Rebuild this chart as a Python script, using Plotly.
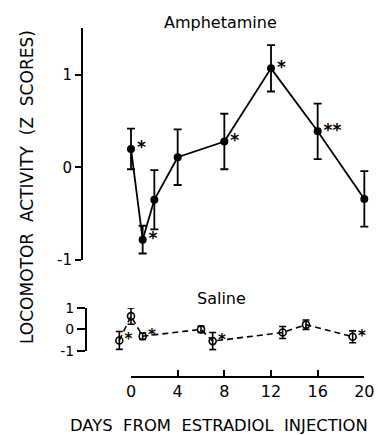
import plotly.graph_objects as go

# ---- data ----
amph_days = [0, 1, 2, 4, 8, 12, 16, 20]
amph_z = [0.20, -0.78, -0.35, 0.11, 0.28, 1.07, 0.39, -0.34]
amph_err = [0.22, 0.15, 0.32, 0.30, 0.30, 0.25, 0.30, 0.30]
amph_sig = ["*", "*", "", "", "*", "*", "**", ""]

sal_days = [-1, 0, 1, 6, 7, 13, 15, 19]
sal_z = [-0.52, 0.62, -0.32, 0.0, -0.55, -0.15, 0.22, -0.35]
sal_err = [0.42, 0.38, 0.15, 0.15, 0.40, 0.28, 0.22, 0.28]
sal_sig = ["*", "", "*", "", "*", "", "", "*"]

x_ticks = [0, 4, 8, 12, 16, 20]
x_ticktext = ["0", "4", "8", "12", "16", "20"]
y_ticks = [-1, 0, 1]
y_ticktext = ["-1", "0", "1"]

W, H = 378, 435
FONT = "DejaVu Sans"
INK = "black"
CLEAR = "rgba(0,0,0,0)"


def pad(labels):
    return [" " + s if s else "" for s in labels]


fig = go.Figure()

# Amphetamine (filled circles, solid line)
fig.add_trace(go.Scatter(
    x=amph_days, y=amph_z, mode="lines+markers",
    line=dict(color=INK, width=1.8),
    marker=dict(symbol="circle", size=8, color=INK),
    error_y=dict(type="data", array=amph_err, visible=True,
                 color=INK, thickness=1.8, width=4),
    xaxis="x", yaxis="y", cliponaxis=False, showlegend=False,
))
fig.add_trace(go.Scatter(
    x=amph_days, y=amph_z, mode="text", text=pad(amph_sig),
    textposition="middle right",
    textfont=dict(family=FONT, size=17, color=INK, weight="bold"),
    xaxis="x", yaxis="y", cliponaxis=False, showlegend=False,
))

# Saline (open circles, dashed line)
fig.add_trace(go.Scatter(
    x=sal_days, y=sal_z, mode="lines+markers",
    line=dict(color=INK, width=1.6, dash="6px,4px"),
    marker=dict(symbol="circle-open", size=7, color=INK,
                line=dict(width=1.6, color=INK)),
    error_y=dict(type="data", array=sal_err, visible=True,
                 color=INK, thickness=1.6, width=3.5),
    xaxis="x", yaxis="y2", cliponaxis=False, showlegend=False,
))
fig.add_trace(go.Scatter(
    x=sal_days, y=sal_z, mode="text", text=pad(sal_sig),
    textposition="middle right",
    textfont=dict(family=FONT, size=15, color=INK, weight="bold"),
    xaxis="x", yaxis="y2", cliponaxis=False, showlegend=False,
))

# invisible trace to hold the visible day axis
fig.add_trace(go.Scatter(
    x=[x_ticks[0], x_ticks[-1]], y=[0, 0], mode="markers",
    marker=dict(opacity=0, color=CLEAR), hoverinfo="skip",
    xaxis="x2", yaxis="y2", showlegend=False,
))

fig.update_layout(
    width=W, height=H,
    margin=dict(l=0, r=0, t=0, b=0, autoexpand=False),
    paper_bgcolor="white", plot_bgcolor=CLEAR,
    font=dict(family=FONT, color=INK, size=15),
    xaxis=dict(domain=[82 / W, 376 / W], range=[-4.2, 21.0],
               showline=False, showticklabels=False, ticks="",
               showgrid=False, zeroline=False, anchor="y2"),
    xaxis2=dict(domain=[131 / W, 364.3 / W], range=[0, 20],
                anchor="free", position=1 - 377 / H,
                showline=True, linecolor=INK, linewidth=2,
                ticks="inside", ticklen=6, tickwidth=2, tickcolor=INK,
                tickvals=x_ticks, ticktext=x_ticktext,
                tickfont=dict(family=FONT, size=16, color=INK),
                showgrid=False, zeroline=False),
    yaxis=dict(domain=[1 - 260 / H, 1 - 28 / H], range=[-1, 1.506],
               anchor="free", position=82 / W,
               showline=True, linecolor=INK, linewidth=2,
               ticks="outside", ticklen=6, tickwidth=2, tickcolor=INK,
               tickvals=y_ticks, ticktext=y_ticktext,
               tickfont=dict(family=FONT, size=15, color=INK),
               showgrid=False, zeroline=False),
    yaxis2=dict(domain=[1 - 350.7 / H, 1 - 308 / H], range=[-1, 1],
                anchor="free", position=86 / W,
                showline=True, linecolor=INK, linewidth=2,
                ticks="outside", ticklen=8, tickwidth=2, tickcolor=INK,
                tickvals=y_ticks, ticktext=y_ticktext,
                tickfont=dict(family=FONT, size=14, color=INK),
                showgrid=False, zeroline=False),
)

annots = [
    dict(text="Amphetamine", x=220 / W, y=1 - 22 / H, size=16, angle=0),
    dict(text="Saline", x=221 / W, y=1 - 298 / H, size=16, angle=0),
    dict(text="DAYS  FROM  ESTRADIOL  INJECTION", x=219 / W, y=1 - 425 / H,
         size=16.4, angle=0),
    dict(text="LOCOMOTOR  ACTIVITY  (Z  SCORES)", x=27 / W, y=1 - 187 / H,
         size=17, angle=-90),
]
for a in annots:
    fig.add_annotation(
        text=a["text"], x=a["x"], y=a["y"], xref="paper", yref="paper",
        xanchor="center", yanchor="middle", showarrow=False,
        textangle=a["angle"],
        font=dict(family=FONT, size=a["size"], color=INK),
    )

fig.write_html(
    "out.html",
    config={"displayModeBar": False},
    post_script="document.body.style.margin='0';document.body.style.overflow='hidden';",
)
